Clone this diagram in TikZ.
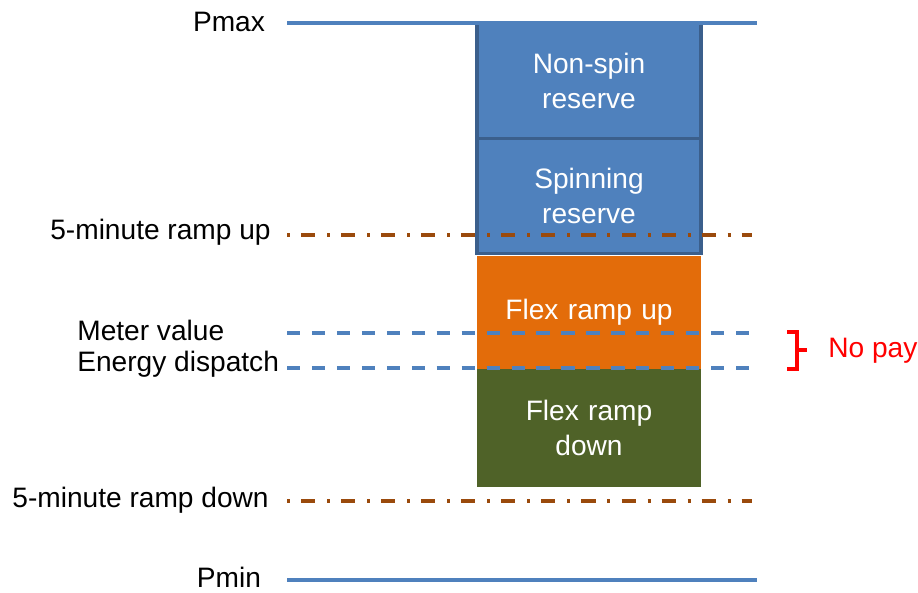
\documentclass[tikz,border=0pt]{standalone}
\usepackage{fontspec}
\setmainfont{Liberation Sans}
\usetikzlibrary{positioning}

\definecolor{resblue}{HTML}{4F81BD}
\definecolor{resedge}{HTML}{3B5F8C}
\definecolor{flexup}{HTML}{E36C0A}
\definecolor{flexdown}{HTML}{4F6228}
\definecolor{rampbrown}{HTML}{9A4A0C}

\begin{document}
\begin{tikzpicture}[x=0.02cm, y=-0.02cm,
    every node/.style={font=\fontsize{16}{20}\selectfont},
    band/.style={rectangle, minimum width=4.48cm, text width=4.2cm, align=center, text=white, inner sep=0pt},
    lbl/.style={inner sep=0pt},
    limitline/.style={resblue, line width=2.2pt},
    rampline/.style={rampbrown, line width=2.2pt, dash pattern=on 1.7pt off 6.3pt on 8pt off 6.8pt},
    levelline/.style={resblue, line width=2.2pt, dash pattern=on 7.5pt off 6.7pt}]

    \useasboundingbox (0,0) rectangle (918,592);

    % stacked bands
    \node (nonspin) [band, fill=resblue, draw=resedge, line width=2pt, minimum height=2.3cm] at (589,81) {Non-spin\\reserve};
    \node (spin) [band, fill=resblue, draw=resedge, line width=2pt, minimum height=2.3cm, below=-2pt of nonspin] {Spinning\\reserve};
    \node (up) [band, fill=flexup, minimum height=2.26cm, below=0pt of spin] {Flex ramp up};
    \node (down) [band, fill=flexdown, minimum height=2.36cm, below=0pt of up] {Flex ramp\\down};

    % labels
    \node (pmax) [lbl] at (229,22) {Pmax};
    \node (rampup) [lbl, anchor=east] at (271,232) {5-minute ramp up};
    \node (meter) [lbl, anchor=west] at (77,330) {Meter value};
    \node (dispatch) [lbl, anchor=west] at (77,364) {Energy dispatch};
    \node (rampdown) [lbl, anchor=east] at (269,500) {5-minute ramp down};
    \node (pmin) [lbl] at (229,577) {Pmin};

    % levels
    \draw[limitline] (287,23) -- (757,23);
    \draw[rampline] (287,235) -- (752,235);
    \draw[levelline] (287,333) -- (757,333);
    \draw[levelline] (287,368) -- (757,368);
    \draw[rampline] (287,501) -- (752,501);
    \draw[limitline] (287,580) -- (757,580);

    \draw[red, line width=2.2pt] (787,332) -| (797,350) -- (807,350);
    \draw[red, line width=2.2pt] (797,350) |- (787,369);
    \node (nopay) [lbl, anchor=west, text=red] at (828,351) {No pay};

\end{tikzpicture}
\end{document}
